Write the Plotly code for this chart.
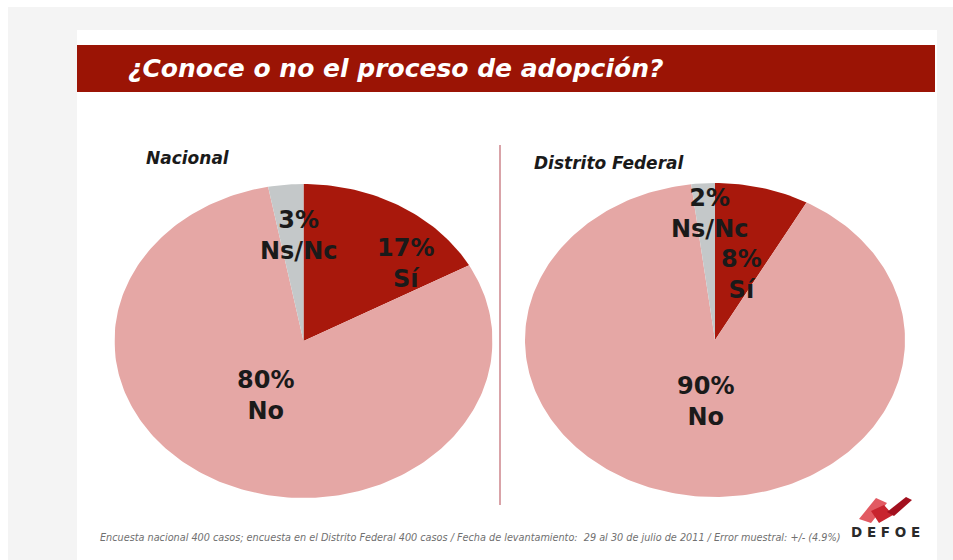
import math
import plotly.graph_objects as go

# ---------------- data ----------------
title_text = "¿Conoce o no el proceso de adopción?"
categories = ["Sí", "No", "Ns/Nc"]
nacional_values = [17, 80, 3]
df_values = [8, 90, 2]
panel_titles = ["Nacional", "Distrito Federal"]
slice_colors = ["#a8180c", "#e5a7a5", "#c4c8c9"]
footer_text = ("Encuesta nacional 400 casos; encuesta en el Distrito Federal 400 casos / "
               "Fecha de levantamiento:  29 al 30 de julio de 2011 / Error muestral: +/- (4.9%)")
logo_text = "DEFOE"

W, H = 953, 560


def px(x):
    return x / W


def py(y):
    return 1 - y / H


fig = go.Figure()


def add_pie(values, xaxis, yaxis):
    total = float(sum(values))
    start = 0.0
    for cat, v, col in zip(categories, values, slice_colors):
        t0 = start / total * 2 * math.pi
        t1 = (start + v) / total * 2 * math.pi
        n = max(4, int(v * 3))
        xs = [0.0]
        ys = [0.0]
        for i in range(n + 1):
            t = t0 + (t1 - t0) * i / n
            xs.append(math.sin(t))
            ys.append(math.cos(t))
        xs.append(0.0)
        ys.append(0.0)
        fig.add_trace(go.Scatter(
            x=xs, y=ys, mode="lines", fill="toself", fillcolor=col,
            line=dict(width=0, color=col), hoverinfo="skip", name=cat,
            xaxis=xaxis, yaxis=yaxis, showlegend=False))
        start += v


add_pie(nacional_values, "x", "y")
add_pie(df_values, "x2", "y2")

ax_common = dict(range=[-1, 1], visible=False, fixedrange=True, showgrid=False, zeroline=False)
fig.update_layout(
    xaxis=dict(domain=[px(114.5), px(492.5)], **ax_common),
    yaxis=dict(domain=[py(498), py(184)], **ax_common),
    xaxis2=dict(domain=[px(525), px(905)], anchor="y2", **ax_common),
    yaxis2=dict(domain=[py(497), py(183)], anchor="x2", **ax_common),
)

shapes = []
# outer grey frame and white slide
shapes.append(dict(type="rect", xref="paper", yref="paper", x0=px(8), x1=px(953), y0=py(560), y1=py(7),
                   fillcolor="#f4f4f4", line=dict(width=0), layer="below"))
shapes.append(dict(type="rect", xref="paper", yref="paper", x0=px(77), x1=px(937), y0=py(560), y1=py(30),
                   fillcolor="#ffffff", line=dict(width=0), layer="below"))
# title bar
shapes.append(dict(type="rect", xref="paper", yref="paper", x0=px(77), x1=px(935), y0=py(92), y1=py(45),
                   fillcolor="#9b1405", line=dict(width=0), layer="below"))
# divider
shapes.append(dict(type="line", xref="paper", yref="paper", x0=px(500), x1=px(500), y0=py(505), y1=py(145),
                   line=dict(color="#d9a3a8", width=2), layer="below"))


def ppath(points):
    s = ""
    for i, (x, y) in enumerate(points):
        s += ("M" if i == 0 else "L") + f"{px(x):.5f},{py(y):.5f} "
    return s + "Z"


logo_parts = [
    ([(859, 519), (876, 498), (887, 503), (871, 523)], "#e25a62"),
    ([(871, 511), (884, 505), (893, 515), (879, 523)], "#c8242e"),
    ([(887, 512), (906, 497), (912, 500), (894, 516)], "#a2101e"),
]
for pts, col in logo_parts:
    shapes.append(dict(type="path", xref="paper", yref="paper", path=ppath(pts),
                       fillcolor=col, line=dict(width=0)))

fig.update_layout(shapes=shapes)

ann = []
ann.append(dict(text=f"<b><i>{title_text}</i></b>", x=px(126), y=py(68), xref="paper", yref="paper",
                xanchor="left", yanchor="middle", showarrow=False,
                font=dict(family="DejaVu Sans", size=25, color="#ffffff")))
ann.append(dict(text=f"<b><i>{panel_titles[0]}</i></b>", x=px(144), y=py(158), xref="paper", yref="paper",
                xanchor="left", yanchor="middle", showarrow=False,
                font=dict(family="DejaVu Sans", size=17, color="#1a1a1a")))
ann.append(dict(text=f"<b><i>{panel_titles[1]}</i></b>", x=px(532), y=py(163), xref="paper", yref="paper",
                xanchor="left", yanchor="middle", showarrow=False,
                font=dict(family="DejaVu Sans", size=17, color="#1a1a1a")))


def slice_label(values, i):
    return f"<b>{values[i]}%<br>{categories[i]}</b>"


# (text, x_px, y_px of the two-line block centre)
labels = [
    (slice_label(nacional_values, 2), 298, 235),
    (slice_label(nacional_values, 0), 405, 263),
    (slice_label(nacional_values, 1), 265, 395),
    (slice_label(df_values, 2), 709, 213),
    (slice_label(df_values, 0), 741, 274),
    (slice_label(df_values, 1), 705, 401),
]
for t, x, y in labels:
    ann.append(dict(text=t, x=px(x), y=py(y), xref="paper", yref="paper",
                    xanchor="center", yanchor="middle", align="center", showarrow=False,
                    font=dict(family="DejaVu Sans", size=24, color="#1a1a1a")))

ann.append(dict(text=f"<i>{footer_text}</i>", x=px(98), y=py(537), xref="paper", yref="paper",
                xanchor="left", yanchor="middle", showarrow=False,
                font=dict(family="DejaVu Sans", size=9.7, color="#707070")))
ann.append(dict(text=f"<b>{' '.join(logo_text)}</b>", x=px(885), y=py(532), xref="paper", yref="paper",
                xanchor="center", yanchor="middle", showarrow=False,
                font=dict(family="DejaVu Sans", size=13.5, color="#2a2a2a")))

fig.update_layout(
    annotations=ann,
    width=W, height=H,
    margin=dict(l=0, r=0, t=0, b=0),
    paper_bgcolor="#ffffff",
    plot_bgcolor="rgba(0,0,0,0)",
    showlegend=False,
)

fig.write_html("out.html", config={"displayModeBar": False})
